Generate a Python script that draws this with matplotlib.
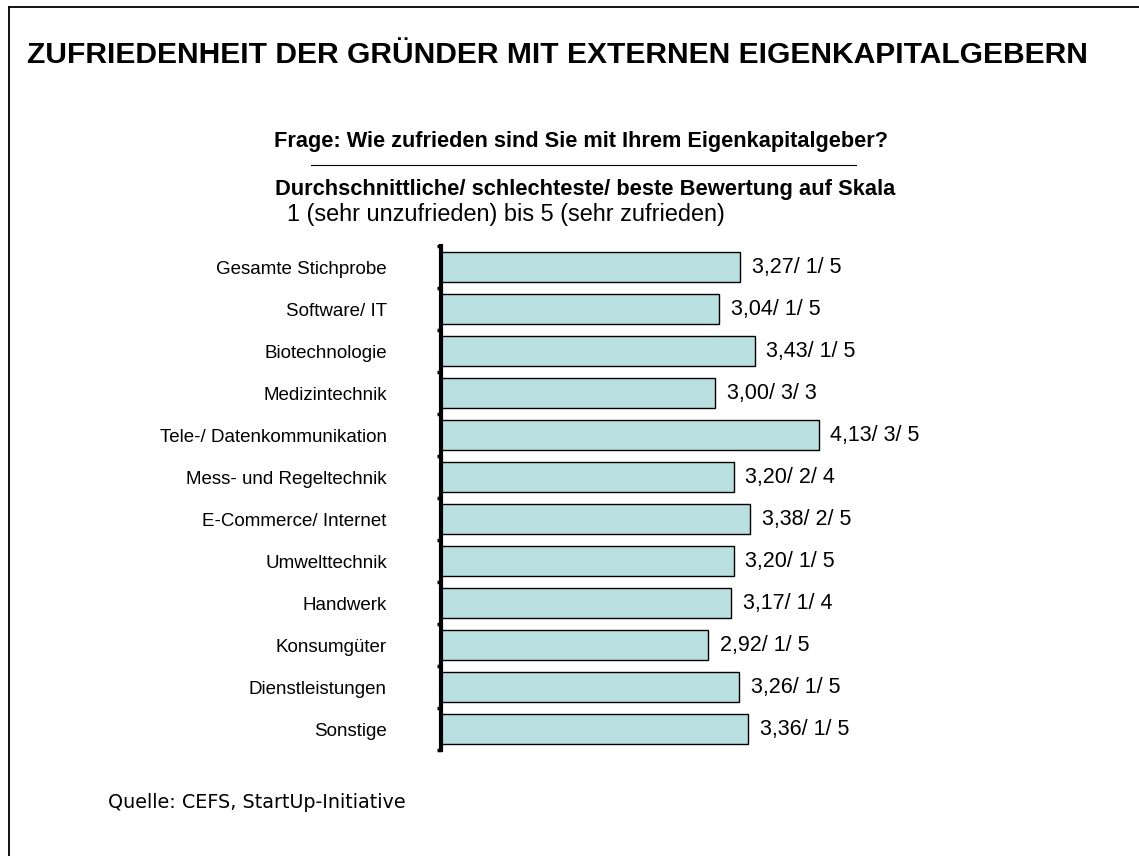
import numpy as np
import matplotlib
matplotlib.use('Agg')
import matplotlib.pyplot as plt
from matplotlib.lines import Line2D

# Zufriedenheit mit Eigenkapitalgebern nach Branche
branchen = ['Gesamte Stichprobe', 'Software/ IT', 'Biotechnologie', 'Medizintechnik',
            'Tele-/ Datenkommunikation', 'Mess- und Regeltechnik', 'E-Commerce/ Internet',
            'Umwelttechnik', 'Handwerk', 'Konsumgüter', 'Dienstleistungen', 'Sonstige']
mittel = [3.27, 3.04, 3.43, 3.00, 4.13, 3.20, 3.38, 3.20, 3.17, 2.92, 3.26, 3.36]
schlechteste = [1, 1, 1, 3, 3, 2, 2, 1, 1, 1, 1, 1]
beste = [5, 5, 5, 3, 5, 4, 5, 5, 4, 5, 5, 5]

W, H = 1139, 856
fig = plt.figure(figsize=(W / 100, H / 100), dpi=100)
plt.rcParams['font.family'] = ['Liberation Sans', 'DejaVu Sans']

# Rahmen oben und links
fig.add_artist(Line2D([9 / W, 1], [1 - 7 / H, 1 - 7 / H], color='k', lw=1.3))
fig.add_artist(Line2D([9 / W, 9 / W], [1 - 7 / H, 0], color='k', lw=1.3))

fig.text(27 / W, 1 - 55 / H, 'ZUFRIEDENHEIT DER GRÜNDER MIT EXTERNEN EIGENKAPITALGEBERN',
         fontsize=21.6, fontweight='bold', va='center', ha='left')
fig.text(581 / W, 1 - 142 / H, 'Frage: Wie zufrieden sind Sie mit Ihrem Eigenkapitalgeber?',
         fontsize=15.7, fontweight='bold', va='center', ha='center')
fig.add_artist(Line2D([311 / W, 856 / W], [1 - 165 / H, 1 - 165 / H], color='k', lw=0.8))
fig.text(585 / W, 1 - 189 / H, 'Durchschnittliche/ schlechteste/ beste Bewertung auf Skala',
         fontsize=15.75, fontweight='bold', va='center', ha='center')
fig.text(287 / W, 1 - 214 / H, '1 (sehr unzufrieden) bis 5 (sehr zufrieden)',
         fontsize=16.9, va='center', ha='left')
fig.text(108 / W, 1 - 803 / H, 'Quelle: CEFS, StartUp-Initiative',
         fontsize=13.8, va='center', ha='left', family='DejaVu Sans')

# Balkendiagramm
ax = fig.add_axes([441 / W, 1 - 750 / H, 452.5 / W, 504 / H])
y = np.arange(len(branchen))
ax.barh(y, mittel, height=0.73, color='#b9dfe1', edgecolor='k', linewidth=1.0)

for yi, m, s, b in zip(y, mittel, schlechteste, beste):
    txt = f'{m:.2f}'.replace('.', ',') + f'/ {s}/ {b}'
    ax.text(m + 0.13, yi, txt, fontsize=15.5, va='center', ha='left')

ax.set_xlim(0, 4.95)
ax.set_ylim(len(branchen) - 0.5, -0.5)
ax.set_xticks([])
ax.set_yticks(np.arange(-0.5, len(branchen)), [''] * (len(branchen) + 1))
ax.set_yticks(y, branchen, minor=True)
ax.tick_params(axis='y', which='major', length=3, width=2.5, direction='out')
ax.tick_params(axis='y', which='minor', length=0, pad=39, labelsize=13.5)
for side in ['top', 'right', 'bottom']:
    ax.spines[side].set_visible(False)
ax.spines['left'].set_linewidth(3)

fig.savefig('out.png', dpi=100)
